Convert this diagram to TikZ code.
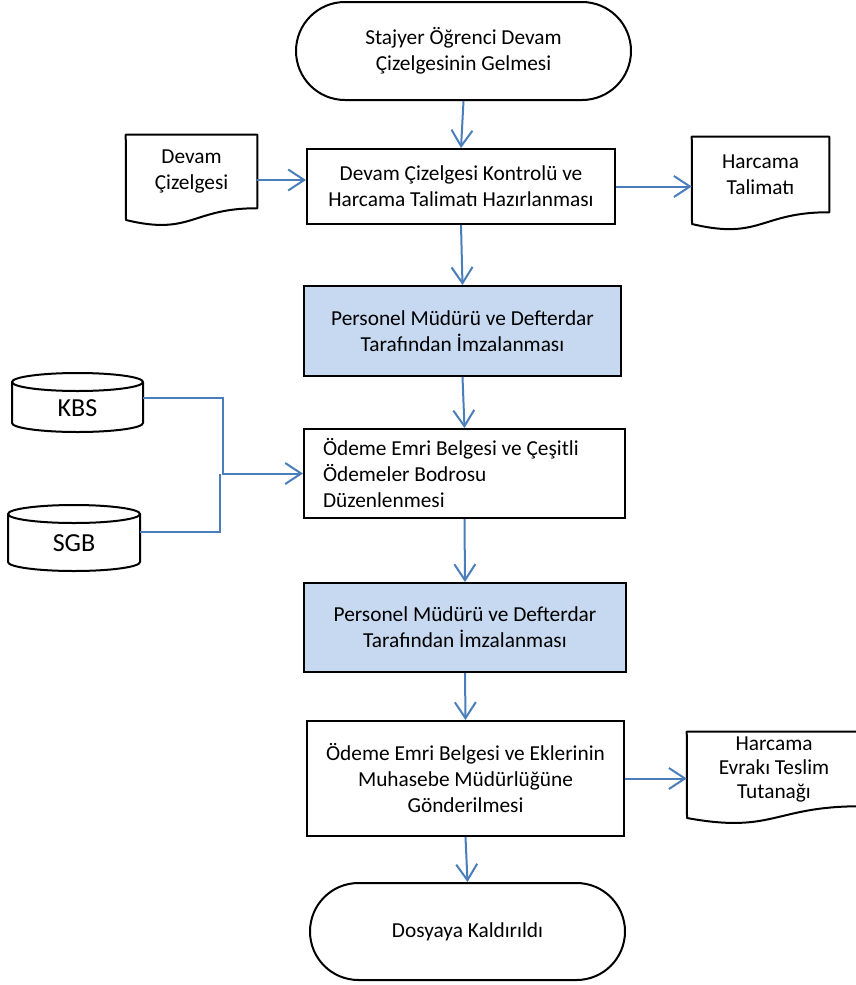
\documentclass[tikz,border=0pt]{standalone}
\usepackage{fontspec}
\setmainfont{Carlito}
\usetikzlibrary{arrows.meta,calc,shapes.misc}
\definecolor{arrowblue}{RGB}{74,126,187}
\definecolor{boxblue}{RGB}{198,217,241}
\begin{document}
\begin{tikzpicture}[x=0.75pt,y=-0.75pt,
  every node/.style={font=\fontsize{16}{19.5}\selectfont},
  proc/.style={draw, line width=1.5pt, rectangle, align=center, inner sep=0pt},
  shaded/.style={proc, fill=boxblue},
  term/.style={draw, line width=1.5pt, rounded rectangle, align=center, inner sep=0pt},
  docnode/.style={align=center, inner sep=0pt},
  dbnode/.style={inner sep=0pt, font=\fontsize{19.5}{22}\selectfont},
  outline/.style={draw, line width=1.5pt, line join=round},
  conn/.style={draw=arrowblue, line width=1.5pt},
  arr/.style={conn, -{Straight Barb[length=12pt,width=15.75pt]}}]
\useasboundingbox (0,0) rectangle (856,985);

% terminals
\node[term, minimum width=251.25pt, minimum height=73.5pt] (start) at (463.5,51) {Stajyer Öğrenci Devam\\Çizelgesinin Gelmesi};
\node[term, minimum width=236.25pt, minimum height=72.75pt] (end) at (467.5,931.5) {Dosyaya Kaldırıldı};

% process boxes
\node[proc, minimum width=231pt, minimum height=56.25pt] (box2) at (461,186.5) {Devam Çizelgesi Kontrolü ve\\Harcama Talimatı Hazırlanması};
\node[shaded, minimum width=237.75pt, minimum height=67.5pt] (box3) at (462.5,331) {Personel Müdürü ve Defterdar\\Tarafından İmzalanması};
\node[proc, minimum width=240.75pt, minimum height=66.75pt, text width=212.25pt, align=flush left] (box4) at (464.5,473.5) {Ödeme Emri Belgesi ve Çeşitli\\Ödemeler Bodrosu\\Düzenlenmesi};
\node[shaded, minimum width=241.5pt, minimum height=66.75pt] (box5) at (465,627.5) {Personel Müdürü ve Defterdar\\Tarafından İmzalanması};
\node[proc, minimum width=237.75pt, minimum height=86.25pt] (box6) at (465.5,778.5) {Ödeme Emri Belgesi ve Eklerinin\\Muhasebe Müdürlüğüne\\Gönderilmesi};

% documents
\node[docnode, minimum width=98.25pt, minimum height=54.75pt] (doc1) at (191.5,171.5) {Devam\\Çizelgesi};
\draw[outline] (doc1.north west) -- (doc1.north east) -- (doc1.south east)
  .. controls (191.5,208) and (191.5,236) .. (126,220) -- cycle;
\node[docnode, minimum width=102.75pt, minimum height=56.25pt] (doc2) at (760.5,174.5) {Harcama\\Talimatı};
\draw[outline] (doc2.north west) -- (doc2.north east) -- (doc2.south east)
  .. controls (760.5,212) and (760.5,240.5) .. (692,224) -- cycle;
\node[docnode, minimum width=130.5pt, minimum height=55.5pt, font=\fontsize{16}{18}\selectfont] (doc3) at (774,769) {Harcama\\Evrakı Teslim\\Tutanağı};
\draw[outline] (doc3.north west) -- (doc3.north east) -- (doc3.south east)
  .. controls (774,806) and (774,834) .. (687,818) -- cycle;

% databases
\node[dbnode, minimum width=98.25pt] (kbs) at (77.5,408) {KBS};
\draw[outline] (77.5,382) ellipse [x radius=65.5, y radius=9];
\draw[outline] (12,382) -- (12,423) arc[start angle=180, end angle=0, x radius=65.5, y radius=9] -- (143,382);
\node[dbnode, minimum width=99pt] (sgb) at (74,543) {SGB};
\draw[outline] (74,514) ellipse [x radius=66, y radius=9];
\draw[outline] (8,514) -- (8,562) arc[start angle=180, end angle=0, x radius=66, y radius=9] -- (140,514);

% connectors
\draw[arr] (start.south) -- (box2.north);
\draw[arr] (box2.south) -- (box3.north);
\draw[arr] (box3.south) -- (box4.north);
\draw[arr] (box4.south) -- (box5.north);
\draw[arr] (box5.south) -- (box6.north);
\draw[arr] (box6.south) -- (end.north);
\path ($(doc1.east)+(0,8.5)$) coordinate (d1);
\draw[arr] (d1) -- (d1 -| box2.west);
\draw[arr] (box2.east) -- (box2.east -| doc2.west);
\draw[arr] (box6.east) -- (box6.east -| doc3.west);
\draw[arr] ($(kbs.east)+(0,-10)$) -- ++(80,0) |- (box4.west);
\draw[conn] ($(sgb.east)+(0,-11)$) -| ($(box4.west)+(-83,0)$);
\end{tikzpicture}
\end{document}
